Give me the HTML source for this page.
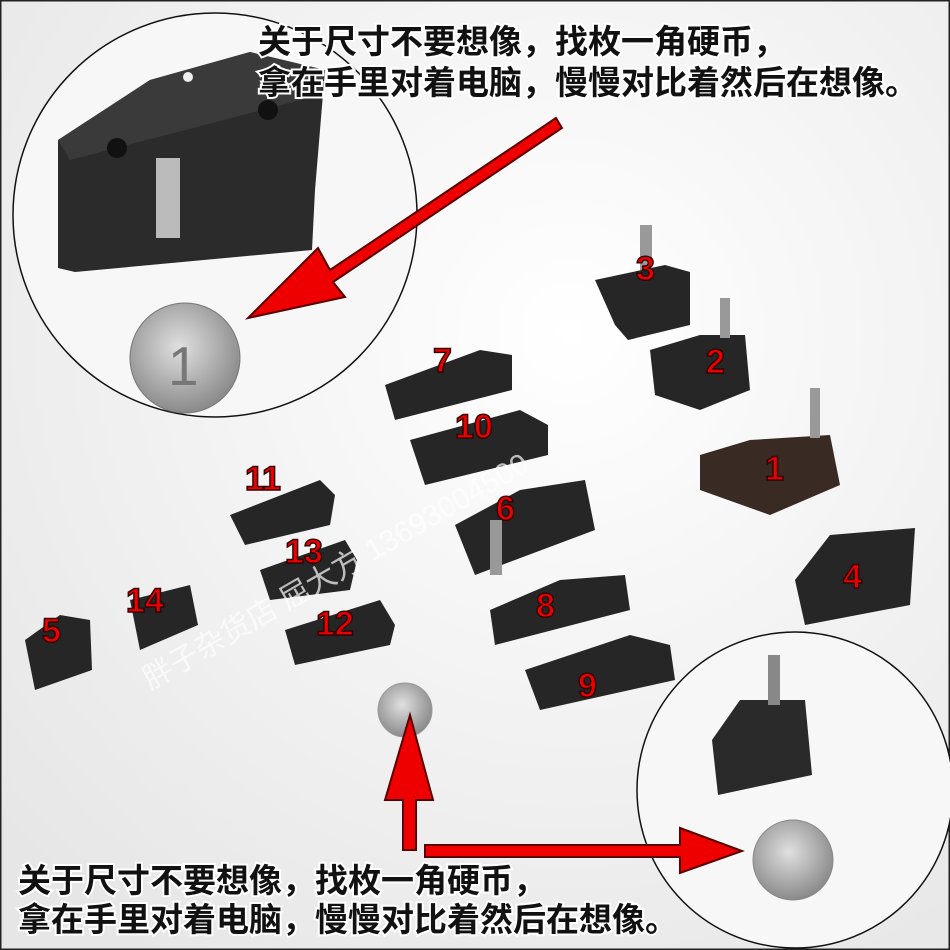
<!DOCTYPE html>
<html><head><meta charset="utf-8"><style>
html,body{margin:0;padding:0;width:950px;height:950px;overflow:hidden;background:#f4f4f4}
svg{display:block}
</style></head><body>
<svg width="950" height="950" viewBox="0 0 950 950" xmlns="http://www.w3.org/2000/svg">
<defs>
<radialGradient id="bg" cx="0.6" cy="0.35" r="0.8"><stop offset="0" stop-color="#ffffff"/><stop offset="1" stop-color="#e6e6e6"/></radialGradient>
<radialGradient id="coin" cx="0.45" cy="0.4" r="0.6"><stop offset="0" stop-color="#e0e0e0"/><stop offset="1" stop-color="#8a8a8a"/></radialGradient>
</defs>
<rect width="950" height="950" fill="url(#bg)"/>
<rect x="0.5" y="0.5" width="949" height="949" fill="none" stroke="#222" stroke-width="2"/>
<circle cx="215" cy="215" r="202" fill="#f7f7f7" stroke="#111" stroke-width="1.5"/>
<path d="M58 140 L150 80 L250 52 L325 70 L315 190 L312 250 L75 272 L58 268 Z" fill="#2b2b2b"/>
<path d="M58 140 L150 80 L250 52 L325 70 L320 95 L70 160 Z" fill="#3a3a3a"/>
<rect x="156" y="158" width="24" height="80" fill="#bbb"/>
<circle cx="117" cy="148" r="10" fill="#111"/><circle cx="268" cy="110" r="10" fill="#111"/>
<circle cx="188" cy="77" r="5" fill="#eee"/>
<circle cx="185" cy="358" r="55" fill="url(#coin)" stroke="#777"/>
<text x="168" y="385" font-family="Liberation Sans" font-size="55" fill="#777">1</text>
<circle cx="795" cy="790" r="158" fill="#f7f7f7" stroke="#111" stroke-width="1.5"/>
<path d="M712 740 L740 700 L805 700 L812 775 L718 795 Z" fill="#2a2a2a"/>
<rect x="768" y="655" width="12" height="50" fill="#888"/>
<circle cx="793" cy="860" r="40" fill="url(#coin)" stroke="#888"/>
<circle cx="405" cy="710" r="27" fill="url(#coin)" stroke="#999"/>
<g fill="#262626">
<path d="M595 280 L665 265 L690 272 L690 325 L628 340 L615 325 Z"/>
<path d="M650 350 L700 335 L745 335 L750 390 L700 410 L655 395 Z"/>
<path d="M700 455 L750 440 L830 435 L840 485 L770 515 L700 490 Z" fill="#3a2a24"/>
<path d="M795 580 L830 535 L915 528 L910 605 L805 625 Z"/>
<path d="M385 385 L480 350 L512 355 L512 390 L395 420 Z"/>
<path d="M410 440 L520 410 L548 425 L548 455 L425 485 Z"/>
<path d="M455 525 L520 490 L585 480 L595 530 L475 575 Z"/>
<path d="M230 515 L320 480 L335 495 L330 525 L245 545 Z"/>
<path d="M260 570 L345 540 L357 560 L350 590 L270 600 Z"/>
<path d="M285 630 L380 600 L395 625 L390 645 L295 665 Z"/>
<path d="M130 600 L190 585 L198 625 L140 650 Z"/>
<path d="M25 640 L60 615 L90 620 L92 670 L35 690 Z"/>
<path d="M490 610 L560 580 L625 575 L630 610 L495 645 Z"/>
<path d="M525 670 L630 635 L670 645 L675 680 L540 710 Z"/>
</g>
<g fill="#999"><rect x="640" y="225" width="12" height="45"/><rect x="720" y="298" width="10" height="40"/><rect x="810" y="388" width="10" height="50"/><rect x="490" y="520" width="12" height="55"/></g>
<g font-family="Liberation Sans" font-size="34" fill="#e00" stroke="#300" stroke-width="1.5" font-weight="bold">
<text x="636" y="280">3</text><text x="706" y="373">2</text><text x="765" y="480">1</text><text x="843" y="588">4</text>
<text x="433" y="372">7</text><text x="455" y="438">10</text><text x="496" y="520">6</text><text x="245" y="490">11</text>
<text x="285" y="563">13</text><text x="316" y="635">12</text><text x="126" y="612">14</text><text x="42" y="642">5</text>
<text x="536" y="617">8</text><text x="578" y="697">9</text>
</g>
<text x="150" y="690" font-family="Liberation Sans,'Noto Sans CJK SC',sans-serif" font-size="30" fill="#fff" opacity="0.7" transform="rotate(-30 150 690)">胖子杂货店 屈大方 13693004500</text>
<g fill="#e00" stroke="#5a0000" stroke-width="2">
<path d="M556 118 L330 270 L318 248 L248 318 L345 297 L333 282 L562 128 Z"/>
<path d="M403 850 L403 800 L385 800 L410 715 L433 800 L416 800 L416 850 Z"/>
<path d="M425 845 L680 845 L680 828 L742 851 L680 873 L680 857 L425 857 Z"/>
</g>
<g font-family="'Noto Sans CJK SC',sans-serif" font-size="33" font-weight="bold" fill="#111" stroke="#fff" stroke-width="4" paint-order="stroke">
<text x="258" y="53">关于尺寸不要想像，找枚一角硬币，</text>
<text x="258" y="94">拿在手里对着电脑，慢慢对比着然后在想像。</text>
<text x="18" y="892">关于尺寸不要想像，找枚一角硬币，</text>
<text x="18" y="931">拿在手里对着电脑，慢慢对比着然后在想像。</text>
</g>
</svg>
</body></html>
